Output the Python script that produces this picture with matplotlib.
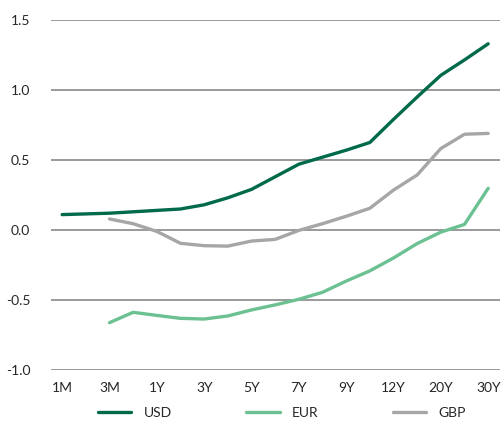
import matplotlib
matplotlib.use("Agg")
import matplotlib.pyplot as plt

# tenors (every other one gets a label)
tenors = ["1M", "2M", "3M", "6M", "1Y", "2Y", "3Y", "4Y", "5Y", "6Y", "7Y",
          "8Y", "9Y", "10Y", "12Y", "15Y", "20Y", "25Y", "30Y"]

usd = [0.11, 0.115, 0.12, 0.13, 0.14, 0.15, 0.18, 0.23, 0.29, 0.38, 0.47,
       0.52, 0.57, 0.625, 0.79, 0.95, 1.105, 1.215, 1.33]
eur = [None, None, -0.662, -0.588, -0.61, -0.631, -0.636, -0.614, -0.571, -0.535, -0.495,
       -0.445, -0.365, -0.292, -0.2, -0.097, -0.015, 0.04, 0.298]
gbp = [None, None, 0.079, 0.045, -0.01, -0.095, -0.112, -0.115, -0.079, -0.067, -0.003,
       0.045, 0.098, 0.155, 0.285, 0.393, 0.582, 0.684, 0.69]

yticks = [-1.0, -0.5, 0.0, 0.5, 1.0, 1.5]

plt.rcParams['font.family'] = ['Lato', 'DejaVu Sans']

fig = plt.figure(figsize=(5.01, 4.30), dpi=100)
ax = fig.add_axes([51 / 501, 60 / 430, 449 / 501, 350 / 430])

x = list(range(len(tenors)))
ax.plot(x, usd, color="#006a4b", lw=2.4, label="USD", solid_capstyle="round")
ax.plot(x, eur, color="#6cc192", lw=2.4, label="EUR", solid_capstyle="round")
ax.plot(x, gbp, color="#a6a6a6", lw=2.4, label="GBP", solid_capstyle="round")

ax.set_xlim(-0.47, 18.5)
ax.set_ylim(-1.0, 1.5)
ax.set_yticks(yticks)
ax.set_yticklabels(["%.1f" % v for v in yticks])
ax.set_xticks(x[::2])
ax.set_xticklabels(tenors[::2])
ax.grid(axis="y", color="#7f7f7f", lw=1.1)
ax.set_axisbelow(True)
for s in ax.spines.values():
    s.set_visible(False)
ax.tick_params(length=0, labelsize=10, colors="#262626")
ax.tick_params(axis="y", pad=15)
ax.tick_params(axis="x", pad=9)

fig.legend(loc="center", bbox_to_anchor=(0.563, 17 / 430), ncol=3, frameon=False,
           fontsize=10, handlelength=2.4, columnspacing=5.35, handletextpad=0.9,
           labelcolor="#262626")

fig.savefig("out.png", dpi=100)
